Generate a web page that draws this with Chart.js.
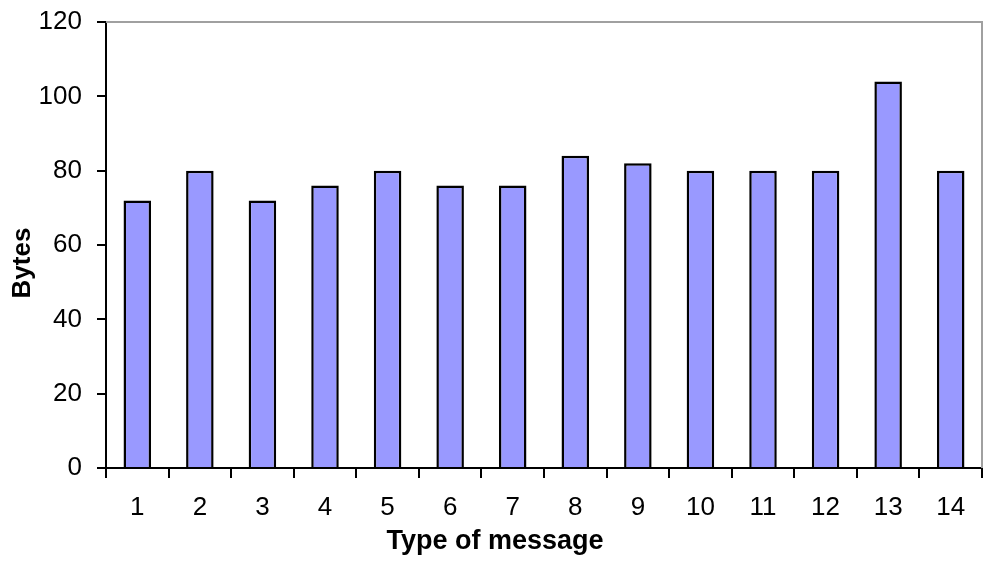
<!DOCTYPE html>
<html>
<head>
<meta charset="utf-8">
<script src="https://cdn.jsdelivr.net/npm/chart.js@4"></script>
<style>
	html, body { margin: 0; padding: 0; background: #fff; }
	#wrap { width: 1000px; height: 562px; }
</style>
</head>
<body>
<div id="wrap"><canvas id="myChart"></canvas></div>
<script>
const messageTypes = ["1", "2", "3", "4", "5", "6", "7", "8", "9", "10", "11", "12", "13", "14"];
const bytesPerMessage = [72, 80, 72, 76, 80, 76, 76, 84, 82, 80, 80, 80, 104, 80];
const yTicks = [0, 20, 40, 60, 80, 100, 120];
const xTitle = "Type of message";
const yTitle = "Bytes";

const fontFamily = "'Liberation Sans', Arial, sans-serif";

// gray frame on top/right of the plot, and the axis titles placed like the original
const framePlugin = {
	id: "frame",
	beforeDatasetsDraw(chart) {
		const { ctx, chartArea } = chart;
		ctx.save();
		ctx.strokeStyle = "#a0a0a0";
		ctx.lineWidth = 2;
		ctx.beginPath();
		ctx.moveTo(chartArea.left, chartArea.top);
		ctx.lineTo(chartArea.right, chartArea.top);
		ctx.lineTo(chartArea.right, chartArea.bottom);
		ctx.stroke();
		ctx.restore();
	},
	afterDraw(chart) {
		const { ctx } = chart;
		ctx.save();
		ctx.fillStyle = "#000";
		ctx.textAlign = "center";
		ctx.textBaseline = "middle";
		ctx.font = "bold 27px " + fontFamily;
		ctx.fillText(xTitle, 495, 542);
		ctx.font = "bold 26px " + fontFamily;
		ctx.translate(23, 263);
		ctx.rotate(-Math.PI / 2);
		ctx.fillText(yTitle, 0, 0);
		ctx.restore();
	},
};

const ctx = document.getElementById("myChart").getContext("2d");

new Chart(ctx, {
	type: "bar",
	data: {
		labels: messageTypes,
		datasets: [
			{
				data: bytesPerMessage,
				backgroundColor: "#9999ff",
				borderColor: "#000000",
				borderWidth: 2.5,
				barPercentage: 0.44,
				categoryPercentage: 1,
			},
		],
	},
	options: {
		responsive: true,
		maintainAspectRatio: false,
		animation: false,
		layout: {
			padding: { top: 22, right: 18, left: 0, bottom: 0 },
		},
		scales: {
			x: {
				grid: {
					drawOnChartArea: false,
					drawTicks: true,
					tickLength: 10,
					color: "#000",
					lineWidth: 2,
				},
				border: { display: true, color: "#000", width: 2 },
				ticks: {
					color: "#000",
					padding: 14,
					font: { family: fontFamily, size: 26 },
					maxRotation: 0,
				},
				afterFit(scale) {
					scale.height = 562 - 468;
					scale.paddingLeft = 0;
					scale.paddingRight = 0;
				},
			},
			y: {
				min: 0,
				max: 120,
				afterBuildTicks(scale) {
					scale.ticks = yTicks.map((v) => ({ value: v }));
				},
				grid: {
					drawOnChartArea: false,
					drawTicks: true,
					tickLength: 9,
					color: "#000",
					lineWidth: 2,
				},
				border: { display: true, color: "#000", width: 2 },
				ticks: {
					color: "#000",
					padding: 15,
					font: { family: fontFamily, size: 26 },
				},
				afterFit(scale) {
					scale.width = 106;
					scale.paddingTop = 0;
					scale.paddingBottom = 0;
				},
			},
		},
		plugins: {
			legend: { display: false },
			tooltip: { enabled: false },
		},
	},
	plugins: [framePlugin],
});
</script>
</body>
</html>
